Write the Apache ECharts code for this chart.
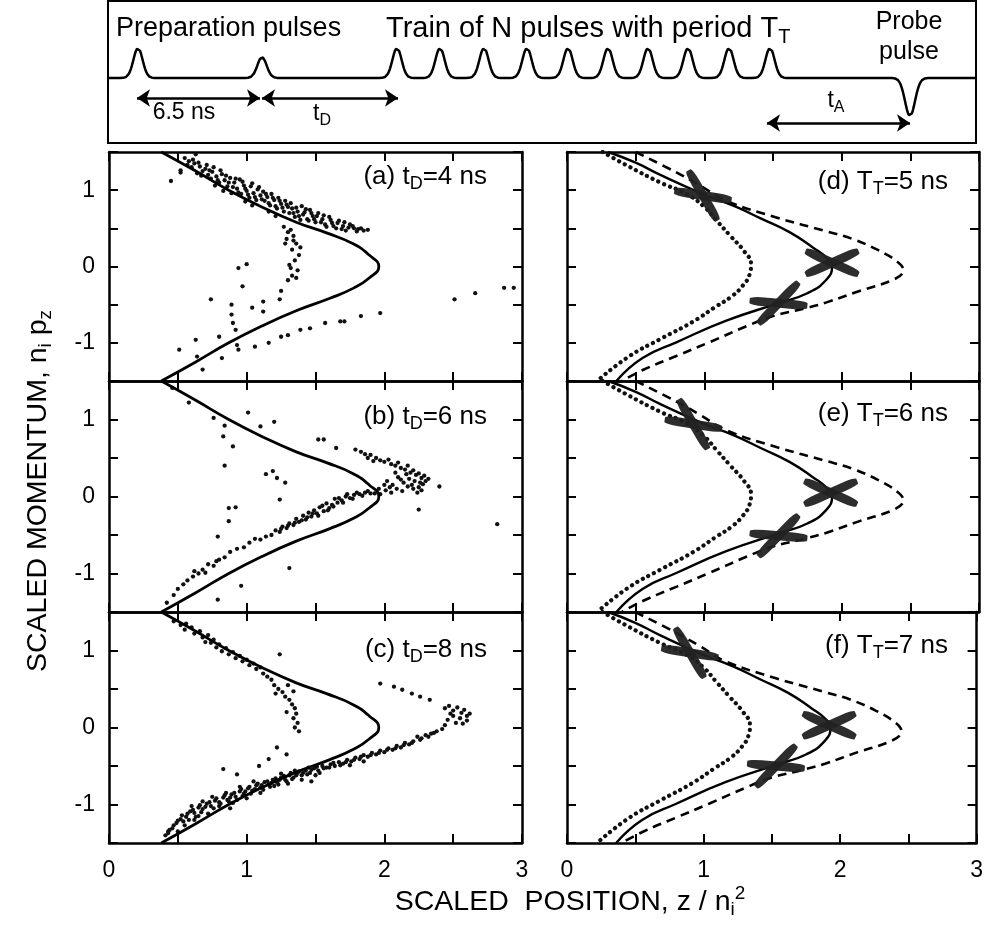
<!DOCTYPE html>
<html><head><meta charset="utf-8">
<script src="https://cdn.jsdelivr.net/npm/echarts/dist/echarts.min.js"></script>
<style>html,body{margin:0;padding:0;background:#fff}#c{width:986px;height:929px}</style>
</head><body><div id="c"></div>
<script>
// ---------------- DATA ----------------
// schematic pulse sequence (horizontal position in schematic units, relative amplitude)
const pulseTimes   = [30, 154, 289, 332, 376, 419, 460, 500, 540, 580, 621, 662, 802];
const pulseHeights = [1, 0.7, 1, 1, 1, 1, 1, 1, 1, 1, 1, 1, -1.27];
const arrowSpans   = [[29, 152], [154, 290], [659, 802]];

const xTicks = [0, 1, 2, 3];
const yTicks = [-1, 0, 1];

// left column: calculated orbit (solid) shared by (a),(b),(c)
const orbitLeft = [[0.38,1.5],[0.63,1.25],[0.87,1.0],[1.11,0.78],[1.36,0.58],[1.58,0.44],[1.77,0.30],[1.89,0.15],[1.96,0.0],[1.89,-0.15],[1.78,-0.28],[1.60,-0.42],[1.36,-0.58],[1.11,-0.78],[0.87,-1.0],[0.63,-1.25],[0.38,-1.5]];

// measured / simulated atoms, panel (a)
const scatA = [
[0.55,1.42],[0.58,1.38],[0.62,1.35],[0.60,1.30],[0.66,1.31],[0.68,1.25],[0.64,1.22],[0.70,1.28],[0.52,1.26],
[0.72,1.20],[0.75,1.24],[0.74,1.15],[0.78,1.18],[0.80,1.10],[0.77,1.06],[0.82,1.21],[0.84,1.13],[0.86,1.05],[0.88,1.16],[0.83,0.99],[0.89,0.96],
[0.91,1.10],[0.93,1.02],[0.95,1.14],[0.96,0.95],[0.98,1.06],[1.00,0.99],[1.02,0.90],[1.03,1.05],[1.05,0.96],[1.07,0.87],[1.08,1.01],[1.10,0.93],[0.99,0.85],[1.04,0.80],
[1.12,0.98],[1.13,0.86],[1.15,0.91],[1.17,0.80],[1.18,0.95],[1.20,0.87],[1.22,0.76],[1.23,0.90],[1.25,0.82],[1.27,0.72],[1.28,0.86],[1.30,0.78],[1.16,0.72],[1.21,0.66],
[1.32,0.83],[1.34,0.70],[1.36,0.77],[1.38,0.66],[1.40,0.79],[1.42,0.71],[1.44,0.62],[1.46,0.74],[1.48,0.66],[1.50,0.58],
[1.52,0.70],[1.55,0.62],[1.57,0.55],[1.60,0.65],[1.62,0.57],[1.65,0.50],[1.67,0.60],[1.70,0.53],[1.72,0.47],[1.75,0.55],[1.78,0.50],[1.80,0.46],[1.83,0.50],
[0.57,1.33],[0.61,1.40],[0.65,1.36],[0.67,1.19],[0.71,1.33],[0.73,1.26],[0.76,1.30],[0.79,1.13],[0.81,1.26],[0.85,1.19],[0.87,1.10],[0.90,1.04],[0.92,1.15],
[0.94,0.97],[0.97,1.11],[0.99,1.02],[1.01,0.94],[1.04,1.09],[1.06,0.91],[1.09,1.04],[1.11,0.88],[1.14,0.95],[1.16,0.83],[1.19,0.90],[1.21,0.79],[1.24,0.86],
[1.26,0.77],[1.29,0.81],[1.31,0.70],[1.33,0.76],[1.35,0.65],[1.37,0.72],[1.39,0.61],[1.41,0.68],[1.43,0.75],[1.45,0.60],[1.47,0.70],[1.49,0.62],[1.51,0.66],
[1.54,0.58],[1.56,0.67],[1.58,0.52],[1.61,0.61],[1.63,0.53],[1.66,0.57],[1.69,0.49],[1.71,0.58],[1.74,0.51],[1.77,0.53],[1.81,0.49],[1.85,0.47],[1.88,0.48],
[1.27,0.52],[1.30,0.45],[1.34,0.40],[1.29,0.36],[1.36,0.30],[1.33,0.22],[1.38,0.15],[1.35,0.08],[1.31,0.02],[1.37,-0.05],[1.33,-0.12],[1.30,-0.18],[1.39,0.25],
[1.32,0.48],[1.28,0.30],[1.34,0.34],[1.32,-0.02],[1.36,-0.15],
[0.94,-0.02],[1.00,0.03],[0.97,-0.26],[1.25,-0.32],[1.24,-0.43],[1.12,-0.46],[0.74,-0.43],[0.89,-0.50],[0.89,-0.63],[1.04,-0.54],[1.12,-0.59],[0.90,-0.74],
[0.92,-0.83],[0.80,-0.92],[0.63,-0.96],[0.51,-1.09],[0.64,-1.18],[0.82,-1.20],[0.94,-1.09],[0.93,-1.03],[1.06,-1.05],[1.16,-1.00],[1.25,-0.92],[1.30,-0.90],
[1.39,-0.83],[1.46,-0.81],[1.57,-0.74],[1.68,-0.72],[1.71,-0.72],[1.83,-0.65],[1.97,-0.61],[2.51,-0.43],[2.66,-0.35],[2.87,-0.28],[2.94,-0.28],[0.68,-1.35],
[0.52,1.23],[0.63,1.47],[0.45,1.12]
];
// panel (b)
const scatB = [
[1.79,0.61],[1.83,0.58],[1.86,0.55],[1.90,0.54],[1.94,0.50],[1.97,0.47],[2.00,0.45],[2.03,0.48],[2.05,0.42],[2.08,0.40],[2.10,0.44],[2.12,0.37],[2.15,0.35],
[2.17,0.40],[2.19,0.31],[2.21,0.34],[2.23,0.28],[2.25,0.30],[2.27,0.24],[2.29,0.27],[2.30,0.20],[2.28,0.16],[2.25,0.12],[2.21,0.10],[2.17,0.13],[2.13,0.07],
[2.09,0.10],[2.05,0.05],[2.01,0.08],[1.97,0.03],[1.93,0.04],[2.22,0.20],[2.18,0.23],[2.14,0.18],[2.10,0.25],[2.06,0.15],[2.02,0.20],[2.24,0.05],[2.27,0.08],
[2.20,0.15],[2.16,0.29],[2.12,0.22],[2.08,0.31],[2.04,0.12],[2.00,0.15],[1.96,0.10],[2.26,0.18],[2.32,0.23],[1.92,0.46],[1.88,0.50],
[1.90,0.04],[1.86,0.05],[1.82,0.03],[1.78,0.02],[1.75,-0.02],[1.72,0.00],[1.69,-0.05],[1.66,-0.08],[1.64,-0.03],[1.62,-0.11],[1.60,-0.15],[1.58,-0.09],
[1.56,-0.19],[1.53,-0.14],[1.51,-0.22],[1.49,-0.18],[1.47,-0.26],[1.45,-0.21],[1.43,-0.30],[1.41,-0.25],[1.38,-0.33],[1.36,-0.29],[1.34,-0.37],[1.31,-0.35],
[1.29,-0.41],[1.26,-0.39],[1.24,-0.46],[1.21,-0.44],[1.18,-0.50],[1.14,-0.52],[1.10,-0.56],[1.06,-0.55],[1.02,-0.60],[0.98,-0.66],[0.93,-0.68],[0.88,-0.72],
[0.84,-0.79],[0.80,-0.82],[0.76,-0.90],[0.72,-0.88],[0.68,-0.95],[0.65,-1.00],[0.61,-1.04],[0.57,-1.09],[0.54,-1.14],[0.50,-1.20],[0.47,-1.28],[0.62,-0.97],
[0.70,-0.99],[0.78,-0.84],
[1.88,0.07],[1.84,0.01],[1.80,0.05],[1.77,-0.03],[1.73,0.03],[1.70,-0.08],[1.67,-0.02],[1.63,-0.13],[1.59,-0.18],[1.55,-0.12],[1.52,-0.25],[1.48,-0.22],
[1.44,-0.27],[1.40,-0.31],[1.35,-0.34],[1.30,-0.38],[1.25,-0.42],
[1.01,1.09],[1.20,0.97],[1.10,0.91],[0.84,0.92],[0.76,1.02],[0.58,1.22],[0.46,1.41],[0.83,0.78],[0.90,0.65],[1.52,0.74],[1.56,0.74],[1.65,0.63],[0.84,0.40],
[1.14,0.29],[1.19,0.33],[1.22,0.24],[1.28,0.18],[1.24,-0.04],[0.87,-0.15],[0.92,-0.14],[0.87,-0.32],[0.79,-0.52],[1.31,-0.93],[0.96,-1.16],[0.79,-1.34],
[2.40,0.13],[2.25,-0.17],[2.82,-0.36],[0.42,-1.38]
];
// panel (c)
const scatC = [
[0.47,1.38],[0.52,1.33],[0.56,1.35],[0.55,1.27],[0.60,1.30],[0.62,1.22],[0.66,1.25],[0.68,1.17],[0.70,1.11],[0.72,1.20],[0.74,1.10],[0.76,1.14],[0.78,1.04],
[0.80,1.08],[0.82,0.99],[0.85,1.03],[0.87,0.95],[0.90,0.98],[0.92,0.90],[0.95,0.93],[0.97,0.86],[1.00,0.88],[1.02,0.81],[1.05,0.83],[1.07,0.76],[1.10,0.78],
[1.12,0.70],[1.15,0.66],[1.18,0.62],[1.20,0.55],[1.23,0.50],[1.26,0.46],[1.28,0.40],[1.31,0.36],[1.33,0.30],[1.35,0.25],[1.36,0.18],[1.34,0.12],[1.37,0.06],
[1.35,0.00],[1.38,-0.05],[1.29,0.20],[1.21,0.44],[1.34,0.47],[1.30,0.55],
[1.24,0.95],[1.22,-0.26],[1.29,-0.35],[1.16,-0.41],[1.09,-0.50],[0.83,-0.54],[0.93,-0.61],[1.47,-0.70],[0.43,-1.35],
[1.97,0.57],[2.07,0.53],[2.13,0.49],[2.20,0.44],[2.26,0.40],[2.33,0.36],
[2.44,0.25],[2.47,0.28],[2.50,0.22],[2.53,0.26],[2.56,0.19],[2.58,0.23],[2.60,0.15],[2.62,0.18],[2.55,0.12],[2.50,0.15],[2.46,0.10],[2.52,0.06],[2.57,0.05],
[2.48,0.18],[2.60,0.09],[2.44,0.03],
[2.42,-0.02],[2.38,-0.05],[2.34,-0.08],[2.30,-0.10],[2.27,-0.14],[2.24,-0.12],[2.21,-0.18],[2.18,-0.22],[2.15,-0.20],[2.12,-0.26],[2.09,-0.24],[2.06,-0.29],
[2.03,-0.27],[2.00,-0.32],[1.97,-0.30],[1.94,-0.35],[1.91,-0.33],[1.88,-0.38],[1.85,-0.36],[1.82,-0.41],[1.79,-0.39],[1.76,-0.44],[1.73,-0.42],[1.70,-0.47],
[1.67,-0.45],[1.64,-0.50],[1.61,-0.48],[1.85,-0.44],[1.75,-0.49],
[1.58,-0.52],[1.55,-0.50],[1.52,-0.56],[1.49,-0.53],[1.46,-0.59],[1.43,-0.56],[1.40,-0.62],[1.37,-0.59],[1.34,-0.65],[1.31,-0.62],[1.28,-0.68],[1.25,-0.65],
[1.22,-0.71],[1.19,-0.68],[1.50,-0.62],[1.40,-0.68],[1.30,-0.73],[1.20,-0.76],[1.45,-0.52],[1.35,-0.56],[1.25,-0.60],
[1.16,-0.74],[1.13,-0.71],[1.10,-0.78],[1.07,-0.75],[1.04,-0.82],[1.01,-0.79],[0.98,-0.86],[0.95,-0.83],[0.92,-0.90],[0.89,-0.87],[0.86,-0.94],[0.83,-0.91],
[1.10,-0.85],[1.00,-0.92],[0.90,-0.98],[1.05,-0.70],[0.95,-0.77],[0.85,-0.85],[0.88,-1.05],[0.80,-1.02],
[0.80,-0.97],[0.77,-0.95],[0.74,-1.02],[0.71,-0.99],[0.68,-1.06],[0.65,-1.04],[0.62,-1.11],[0.59,-1.09],[0.56,-1.16],[0.53,-1.14],[0.50,-1.21],[0.47,-1.27],
[0.44,-1.33],[0.41,-1.40],[0.75,-0.90],[0.68,-0.96],[0.60,-1.02],[0.72,-1.12],[0.62,-1.20],[0.55,-1.27],[0.50,-1.35],[0.65,-1.15],
[0.43,-1.37],[0.46,-1.31],[0.49,-1.24],[0.52,-1.19],[0.54,-1.22],[0.57,-1.12],[0.58,-1.20],[0.61,-1.07],[0.63,-1.16],[0.66,-1.01],[0.67,-1.10],[0.70,-1.03],
[0.73,-0.97],[0.76,-1.05],[0.78,-0.92],[0.81,-0.99],[0.84,-0.88],[0.87,-0.96],[0.88,-0.91],[0.91,-0.85],[0.93,-0.94],[0.96,-0.80],[0.97,-0.89],[0.99,-0.83],
[1.02,-0.77],[1.03,-0.86],[1.06,-0.80],[1.08,-0.73],[1.11,-0.75],[1.12,-0.81],[1.15,-0.70],[1.17,-0.77],[1.18,-0.72],[1.21,-0.66],[1.23,-0.74],[1.24,-0.68],
[1.27,-0.63],[1.29,-0.70],[1.32,-0.59],[1.33,-0.67],[1.36,-0.62],[1.38,-0.57],[1.41,-0.59],[1.44,-0.61],[1.47,-0.55],[1.51,-0.51],[1.53,-0.59],[1.56,-0.53],
[1.60,-0.52],[1.63,-0.46],[1.68,-0.49],[1.72,-0.45],[1.78,-0.42],[1.83,-0.38],[1.90,-0.36],[1.96,-0.33],[2.02,-0.29],[2.08,-0.27],[2.14,-0.23],[2.20,-0.20],
[2.26,-0.16],[2.32,-0.12],[2.36,-0.07]
];

// right column: three orbits shared by (d),(e),(f)
const solidRight  = [[0.30,1.5],[0.50,1.36],[0.68,1.20],[0.99,0.95],[1.22,0.79],[1.41,0.63],[1.62,0.45],[1.79,0.25],[1.90,0.10],[1.93,0.0],[1.89,-0.17],[1.75,-0.35],[1.54,-0.48],[1.16,-0.71],[0.80,-0.99],[0.55,-1.20],[0.36,-1.5]];
const dashedRight = [[0.50,1.5],[0.80,1.23],[0.97,1.06],[1.16,0.86],[1.53,0.64],[1.89,0.46],[2.08,0.36],[2.26,0.22],[2.40,0.07],[2.45,-0.05],[2.38,-0.17],[2.13,-0.32],[1.89,-0.47],[1.75,-0.54],[1.50,-0.65],[1.31,-0.78],[1.04,-0.99],[0.80,-1.17],[0.56,-1.35],[0.40,-1.5]];
const dottedRight = [[0.26,1.5],[0.43,1.33],[0.68,1.10],[0.87,0.95],[1.00,0.78],[1.09,0.60],[1.19,0.40],[1.29,0.20],[1.34,0.03],[1.33,-0.10],[1.28,-0.25],[1.20,-0.39],[1.08,-0.53],[0.92,-0.72],[0.68,-0.95],[0.45,-1.18],[0.22,-1.5]];
// X marks (measured positions)
const xMarksD = [[0.99,0.93],[1.93,0.05],[1.54,-0.48]];
const xMarksE = [[0.92,0.94],[1.92,0.05],[1.54,-0.51]];
const xMarksF = [[0.90,0.97],[1.92,0.03],[1.53,-0.50]];

// ---------------- LAYOUT / STYLE ----------------
const FONT = 'Liberation Sans';
const ARM_ANGLES = [[-60, -9], [-24, 24], [-5, 46]];
const ARROW_LEVELS = [-0.667, -0.667, -1.5];
const COLS = [{left:109, width:413}, {left:567, width:412}];
const ROWS = [{top:152, height:229}, {top:381, height:231}, {top:612, height:231}];

const chart = echarts.init(document.getElementById('c'), null, {renderer:'canvas', width:986, height:929});
const grids = [], xAxes = [], yAxes = [], series = [];

// top schematic box
grids.push({left:108, top:1, width:868, height:142, show:true, borderColor:'#000', borderWidth:2, backgroundColor:'rgba(0,0,0,0)'});
xAxes.push({gridIndex:0, type:'value', min:0, max:868, show:false});
yAxes.push({gridIndex:0, type:'value', min:-2.167, max:2.567, show:false});
const wave = [];
for (let t = 0; t <= 868; t += 1) {
  let v = 0;
  pulseTimes.forEach((c, k) => { const s = pulseHeights[k] < 0 ? 5 : 4.6; v += pulseHeights[k] * Math.exp(-((t - c) * (t - c)) / (2 * s * s)); });
  wave.push([t, v]);
}
series.push({type:'line', xAxisIndex:0, yAxisIndex:0, data:wave, showSymbol:false, silent:true,
  lineStyle:{color:'#000', width:2.5},
  markLine:{silent:true, symbol:['arrow','arrow'], symbolSize:13, label:{show:false},
    lineStyle:{color:'#000', width:2.5, type:'solid'},
    data: arrowSpans.map((s, i) => [{coord:[s[0], ARROW_LEVELS[i]]}, {coord:[s[1], ARROW_LEVELS[i]]}])}
});

const isInt = v => Math.abs(v - Math.round(v)) < 1e-9;
const xFmt = v => (isInt(v) && xTicks.indexOf(Math.round(v)) >= 0) ? String(Math.round(v)) : '';
const yFmt = v => (isInt(v) && yTicks.indexOf(Math.round(v)) >= 0) ? String(Math.round(v)) : '';

const panels = [
  {col:0, row:0, label:'(a) t{s|D}=4 ns', ly:177},
  {col:0, row:1, label:'(b) t{s|D}=6 ns', ly:417},
  {col:0, row:2, label:'(c) t{s|D}=8 ns', ly:650},
  {col:1, row:0, label:'(d) T{s|T}=5 ns', ly:182, marks:xMarksD},
  {col:1, row:1, label:'(e) T{s|T}=6 ns', ly:414, marks:xMarksE},
  {col:1, row:2, label:'(f) T{s|T}=7 ns', ly:646, marks:xMarksF}
];
const scatters = [scatA, scatB, scatC];

panels.forEach((p, i) => {
  const gi = i + 1;
  grids.push({left:COLS[p.col].left, width:COLS[p.col].width, top:ROWS[p.row].top, height:ROWS[p.row].height});
  const axisLine = {show:true, onZero:false, lineStyle:{color:'#000', width:2.5}};
  const axisTick = {show:true, inside:true, length:9, lineStyle:{color:'#000', width:2}};
  const base = {gridIndex:gi, type:'value', axisLine, axisTick, splitLine:{show:false}};
  xAxes.push(Object.assign({}, base, {position:'bottom', min:0, max:3, interval:0.5,
    axisLabel:{show:p.row === 2, formatter:xFmt, fontSize:23, color:'#000', fontFamily:FONT, margin:16}}));
  xAxes.push(Object.assign({}, base, {position:'top', min:0, max:3, interval:0.5, axisLabel:{show:false}}));
  yAxes.push(Object.assign({}, base, {position:'left', min:-1.5, max:1.5, interval:0.5,
    axisLabel:{show:p.col === 0, formatter:yFmt, fontSize:23, color:'#000', fontFamily:FONT, margin:14}}));
  yAxes.push(Object.assign({}, base, {position:'right', min:-1.5, max:1.5, interval:0.5, axisLabel:{show:false}}));
  const xi = 1 + 2 * i, yi = 1 + 2 * i;
  if (p.col === 0) {
    series.push({type:'scatter', xAxisIndex:xi, yAxisIndex:yi, data:scatters[p.row], symbol:'circle', symbolSize:4.3,
      itemStyle:{color:'#111', opacity:1}, silent:true});
    series.push({type:'line', xAxisIndex:xi, yAxisIndex:yi, data:orbitLeft, smooth:0.5, showSymbol:false, silent:true,
      lineStyle:{color:'#000', width:2.8}});
  } else {
    series.push({type:'line', xAxisIndex:xi, yAxisIndex:yi, data:dottedRight, smooth:0.5, showSymbol:false, silent:true,
      lineStyle:{color:'#111', width:4.2, type:[0.1, 6.2], cap:'round'}});
    series.push({type:'line', xAxisIndex:xi, yAxisIndex:yi, data:dashedRight, smooth:0.4, showSymbol:false, silent:true,
      lineStyle:{color:'#000', width:2.6, type:[9, 6]}});
    series.push({type:'line', xAxisIndex:xi, yAxisIndex:yi, data:solidRight, smooth:0.5, showSymbol:false, silent:true,
      lineStyle:{color:'#000', width:2.4}});
    const armData = [];
    p.marks.forEach((m, k) => {
      ARM_ANGLES[k].forEach(a => armData.push({value:m, symbolRotate:a}));
    });
    series.push({type:'scatter', xAxisIndex:xi, yAxisIndex:yi, data:armData, symbol:'roundRect', symbolSize:[58, 9],
      itemStyle:{color:'#222', opacity:0.95}, silent:true, z:5});
  }
});

// text helpers
function rich(size) {
  const sub = Math.round(size * 0.68);
  return {
    s:{fontSize:sub, fontFamily:FONT, fill:'#000', padding:[Math.round(size * 0.55), 0, 0, 0]},
    sup:{fontSize:sub, fontFamily:FONT, fill:'#000', padding:[0, 0, Math.round(size * 0.6), 0]}
  };
}
function txt(x, y, text, size, align, extra) {
  return Object.assign({type:'text', x:x, y:y, silent:true, z:100,
    style:{text:text, fontSize:size, fontFamily:FONT, fill:'#000', textAlign:align, textVerticalAlign:'middle',
      align:align, verticalAlign:'middle', rich:rich(size)}}, extra || {});
}
const graphics = [
  txt(116, 29, 'Preparation pulses', 27, 'left'),
  txt(386, 29, 'Train of N pulses with period T{s|T}', 29, 'left'),
  txt(909, 22, 'Probe', 25, 'center'),
  txt(909, 52, 'pulse', 25, 'center'),
  txt(184, 113, '6.5 ns', 23, 'center'),
  txt(322, 114, 't{s|D}', 23, 'center'),
  txt(836, 101, 't{s|A}', 23, 'center'),
  txt(570, 902, 'SCALED  POSITION, z / n{s|i}{sup|2}', 28.5, 'center'),
  txt(38, 491, 'SCALED MOMENTUM, n{s|i} p{s|z}', 28.5, 'center', {rotation:Math.PI / 2})
];
panels.forEach(p => {
  graphics.push(txt(p.col === 0 ? 487 : 948, p.ly, p.label, 26, 'right'));
});

chart.setOption({
  animation:false,
  backgroundColor:'#fff',
  textStyle:{fontFamily:FONT},
  grid:grids, xAxis:xAxes, yAxis:yAxes, series:series, graphic:graphics
});
</script>
</body></html>
